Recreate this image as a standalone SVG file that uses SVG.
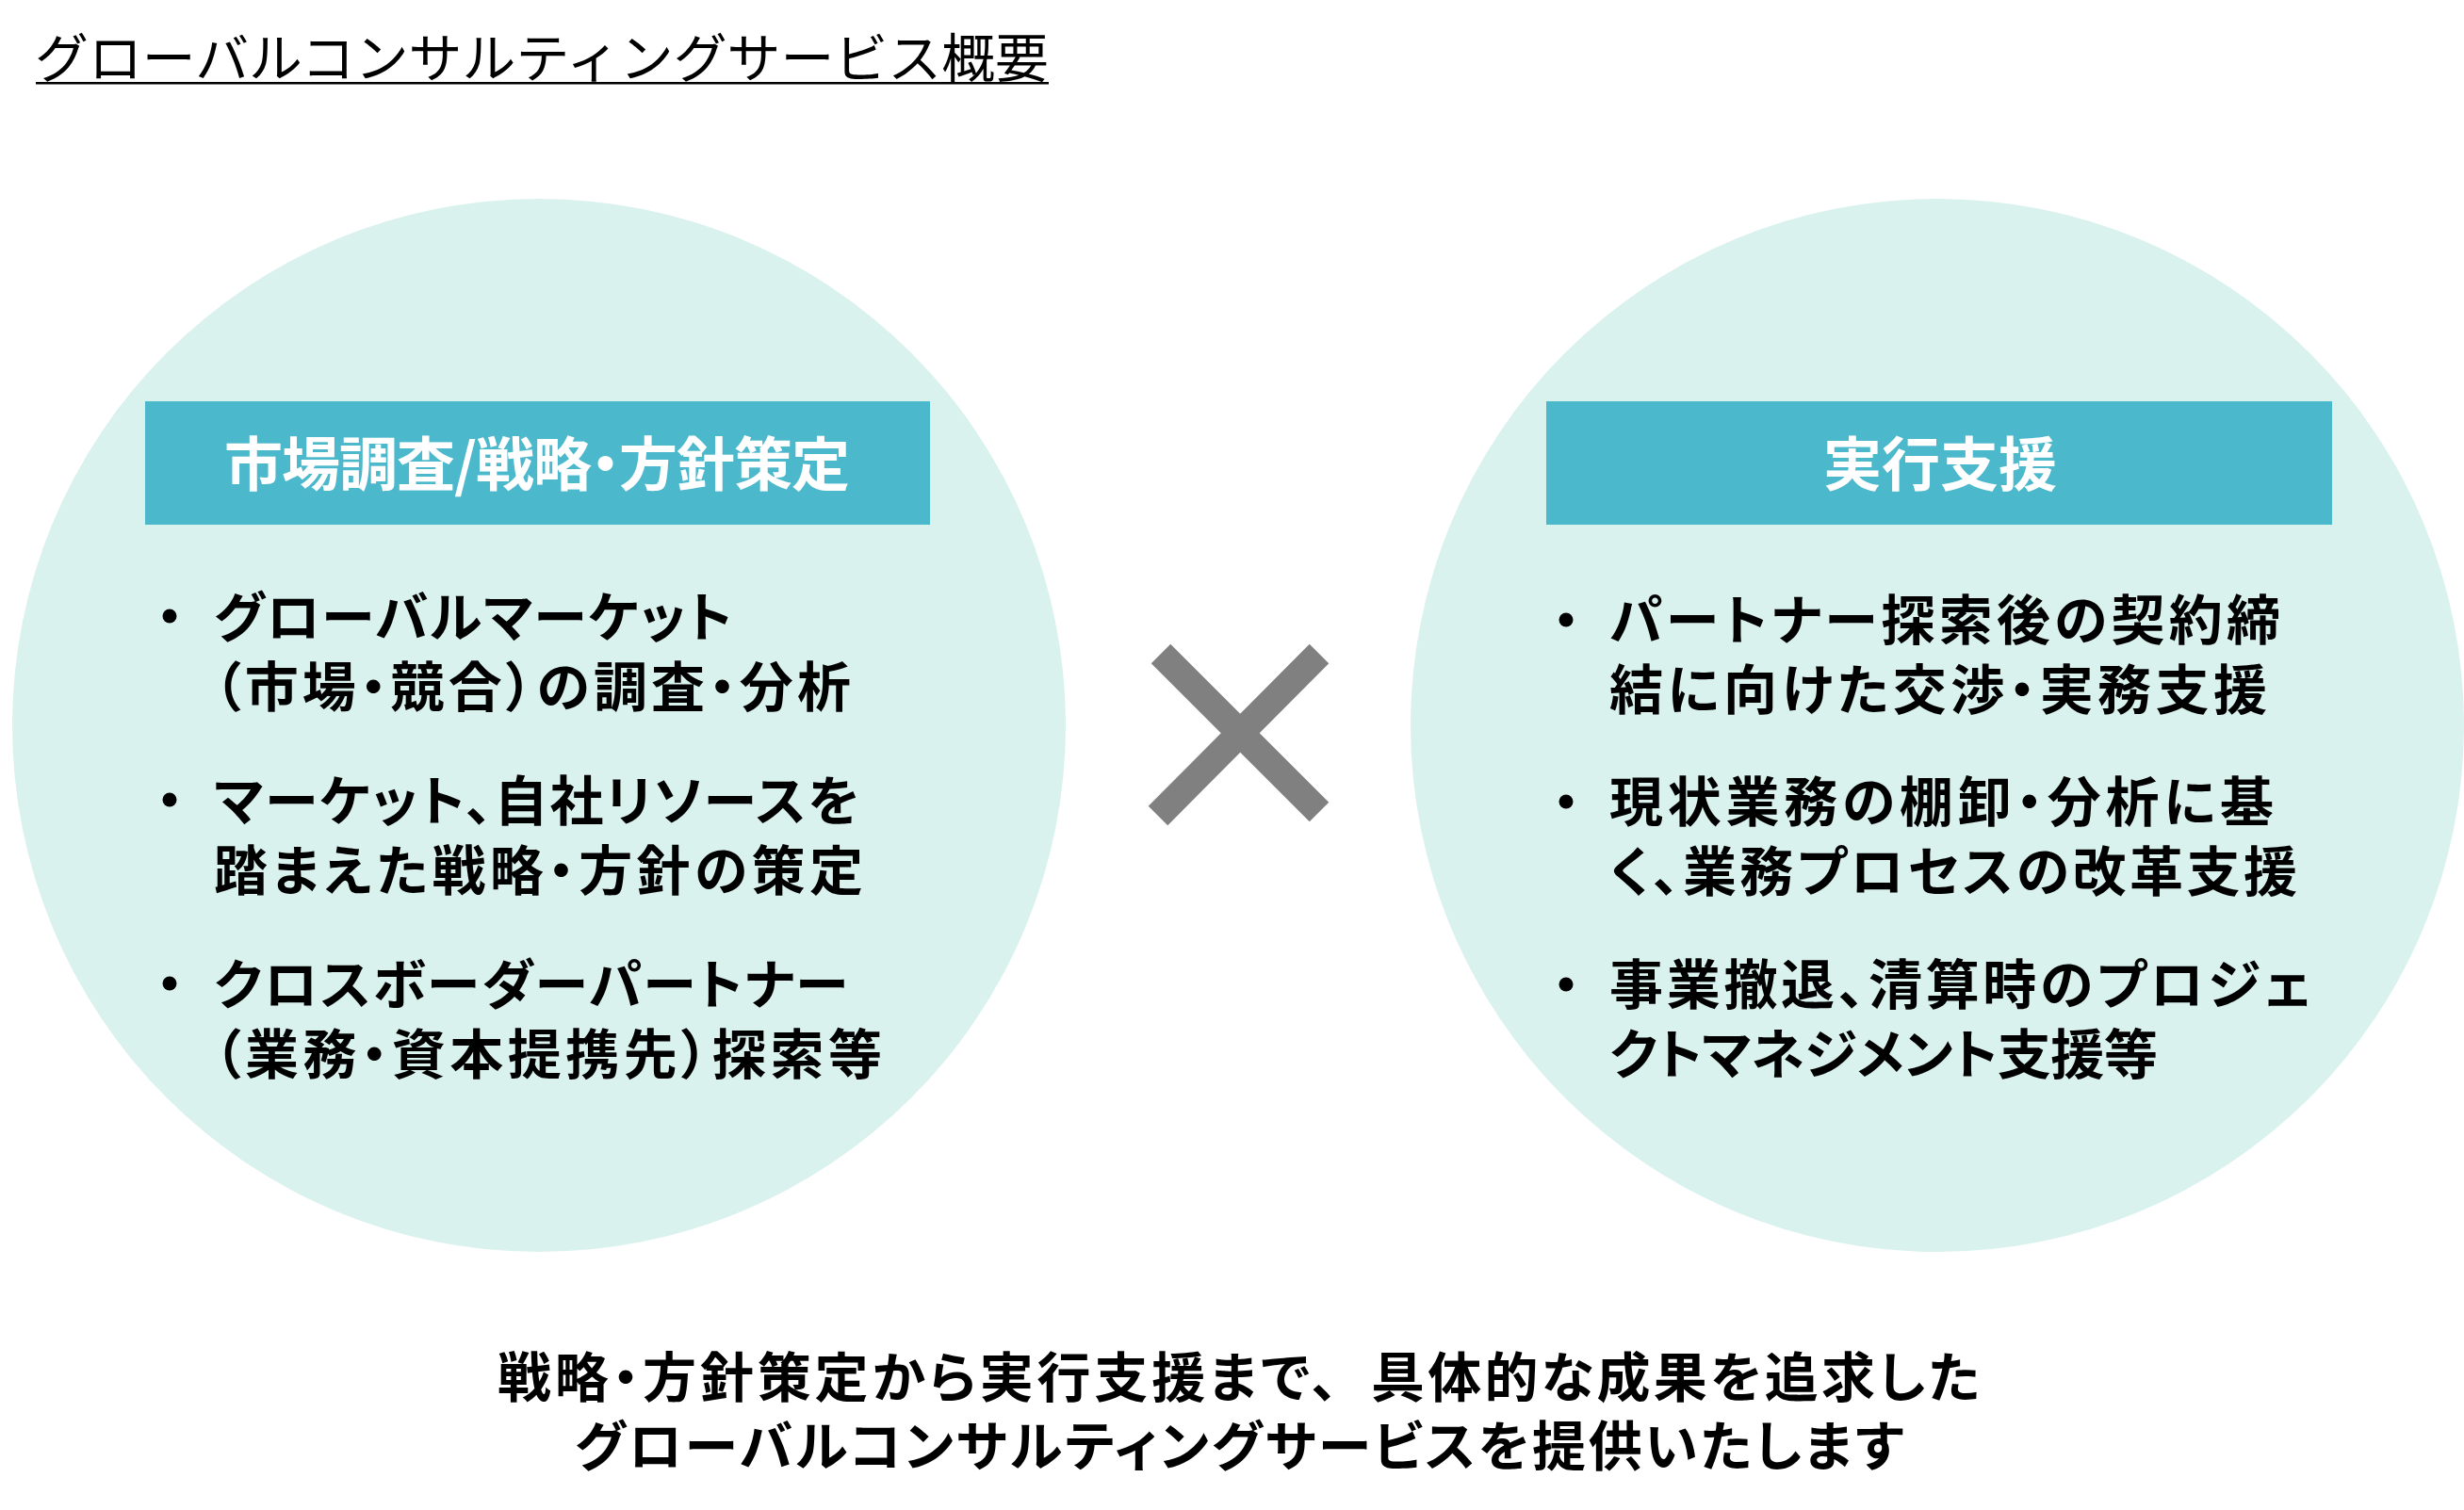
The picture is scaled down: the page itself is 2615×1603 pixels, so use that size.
<svg xmlns="http://www.w3.org/2000/svg" width="2615" height="1603" viewBox="0 0 2615 1603">
<style>
.bg{fill:#ffffff}
.circle{fill:#DAF2EE}
.hdr{fill:#4CB8CC}
.hdrtxt{font-family:"Noto Sans CJK JP","Noto Sans",sans-serif;font-weight:bold;font-size:62px;fill:#ffffff;font-feature-settings:"palt"}
.body{font-family:"Noto Sans CJK JP","Noto Sans",sans-serif;font-weight:bold;font-size:57px;fill:#000000;font-feature-settings:"palt"}
.title{font-family:"Noto Sans CJK JP","Noto Sans",sans-serif;font-weight:normal;font-size:56px;fill:#000000}
.dot{fill:#000000}
.cross{stroke:#808080;stroke-width:29;stroke-linecap:butt;fill:none}
</style>
<rect class="bg" x="0" y="0" width="2615" height="1603"/>

<g id="title">
  <text class="title" x="37" y="82" textLength="1076" lengthAdjust="spacingAndGlyphs">グローバルコンサルティングサービス概要</text>
  <rect x="38" y="87" width="1075" height="2.5" fill="#000000"/>
</g>

<g id="node-left">
  <circle class="circle" cx="572" cy="770" r="559"/>
  <rect class="hdr" x="154" y="426" width="833" height="131"/>
  <text class="hdrtxt" x="238" y="516" textLength="664" lengthAdjust="spacing">市場調査/戦略・方針策定</text>
  <circle class="dot" cx="180" cy="654" r="7.5"/>
  <text class="body" x="227" y="676" textLength="550" lengthAdjust="spacing">グローバルマーケット</text>
  <text class="body" x="227" y="750" textLength="676" lengthAdjust="spacing">（市場・競合）の調査・分析</text>
  <circle class="dot" cx="180" cy="849" r="7.5"/>
  <text class="body" x="227" y="871" textLength="685" lengthAdjust="spacing">マーケット、自社リソースを</text>
  <text class="body" x="227" y="945" textLength="689" lengthAdjust="spacing">踏まえた戦略・方針の策定</text>
  <circle class="dot" cx="180" cy="1044" r="7.5"/>
  <text class="body" x="227" y="1066" textLength="673" lengthAdjust="spacing">クロスボーダーパートナー</text>
  <text class="body" x="227" y="1140" textLength="709" lengthAdjust="spacing">（業務・資本提携先）探索等</text>
</g>

<g id="node-cross">
  <line class="cross" x1="1232" y1="694" x2="1400" y2="862"/>
  <line class="cross" x1="1400" y1="694" x2="1229" y2="866"/>
</g>

<g id="node-right">
  <circle class="circle" cx="2056" cy="770" r="559"/>
  <rect class="hdr" x="1641" y="426" width="834" height="131"/>
  <text class="hdrtxt" x="2059" y="516" text-anchor="middle">実行支援</text>
  <circle class="dot" cx="1662" cy="658" r="7.5"/>
  <text class="body" x="1708" y="679" textLength="712" lengthAdjust="spacing">パートナー探索後の契約締</text>
  <text class="body" x="1708" y="753" textLength="698" lengthAdjust="spacing">結に向けた交渉・実務支援</text>
  <circle class="dot" cx="1662" cy="851" r="7.5"/>
  <text class="body" x="1708" y="872" textLength="705" lengthAdjust="spacing">現状業務の棚卸・分析に基</text>
  <text class="body" x="1708" y="946" textLength="730" lengthAdjust="spacing">く、業務プロセスの改革支援</text>
  <circle class="dot" cx="1662" cy="1045" r="7.5"/>
  <text class="body" x="1708" y="1066" textLength="745" lengthAdjust="spacing">事業撤退、清算時のプロジェ</text>
  <text class="body" x="1708" y="1140" textLength="582" lengthAdjust="spacing">クトマネジメント支援等</text>
</g>

<g id="summary">
  <text class="body" x="528" y="1483" textLength="892" lengthAdjust="spacing">戦略・方針策定から実行支援まで、</text>
  <text class="body" x="1455" y="1483" textLength="646" lengthAdjust="spacing">具体的な成果を追求した</text>
  <text class="body" x="610" y="1556" textLength="1410" lengthAdjust="spacing">グローバルコンサルティングサービスを提供いたします</text>
</g>
</svg>
